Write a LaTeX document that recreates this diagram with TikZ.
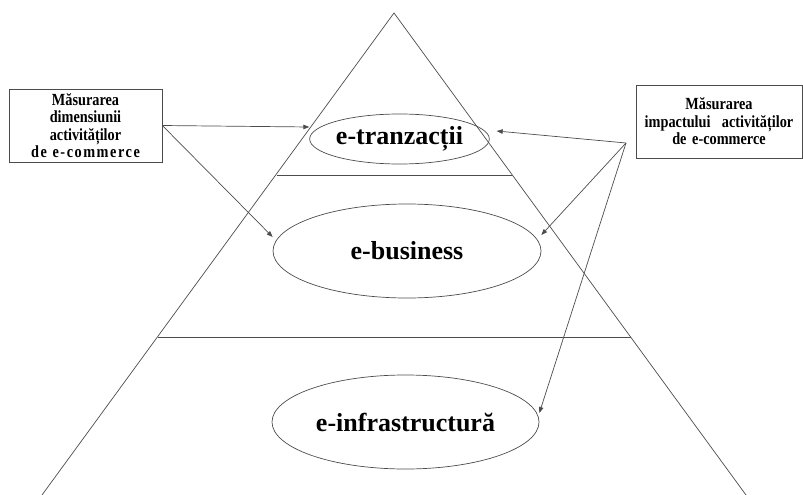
\documentclass[tikz,border=0pt]{standalone}
\usepackage{fontspec}
\setmainfont{Liberation Serif}
\newfontfamily\boxfont[FakeStretch=0.84]{Liberation Serif}
\usetikzlibrary{shapes.geometric,arrows.meta}

\tikzset{
  edge/.style={draw=black!70, line width=0.7pt},
  layer/.style={ellipse, edge, inner sep=0pt,
    font=\fontsize{26}{30}\selectfont\bfseries},
  infobox/.style={rectangle, edge, inner sep=0pt, align=center,
    font=\boxfont\fontsize{17}{17.5}\selectfont\bfseries},
  arr/.style={edge, -{Triangle[length=6pt,width=4.5pt]}}
}

\begin{document}
\begin{tikzpicture}[x=1pt, y=-1pt]
\useasboundingbox (0,0) rectangle (803,495);

% pyramid outline and level separators
\draw[edge] (42,495) -- (394,13) -- (746,495);
\draw[edge] (276.5,175) -- (512,175);
\draw[edge] (157.5,337) -- (630.5,337);

% pyramid levels
\node[layer, minimum width=153pt, minimum height=50pt] (et) at (399.5,139) {e-tranzacții};
\node[layer, minimum width=268pt, minimum height=94pt] (eb) at (407,251) {e-business};
\node[layer, minimum width=267pt, minimum height=94pt] (ei) at (405.5,422) {e-infrastructură};

% measurement boxes
\node[infobox, minimum width=153pt, minimum height=73pt, text width=150pt] (dim) at (85.5,125.5)
  {Măsurarea\\dimensiunii\\activităților\\{\addfontfeatures{LetterSpace=9}de e-commerce}};
\node[infobox, minimum width=166pt, minimum height=73pt, text width=162pt] (imp) at (719,121.5)
  {Măsurarea\\impactului\ \ activităților\\de e-commerce};

% connectors
\draw[arr] (dim.east) -- ([yshift=12pt]et.west);
\draw[arr] (dim.east) -- ([yshift=14pt]eb.west);

\coordinate (src) at (626,143);
\draw[arr] (src) -- ([xshift=7pt,yshift=8pt]et.east);
\draw[arr] (src) -- ([yshift=16pt]eb.east);
\draw[arr] (src) -- ([yshift=9pt]ei.east);
\end{tikzpicture}
\end{document}
